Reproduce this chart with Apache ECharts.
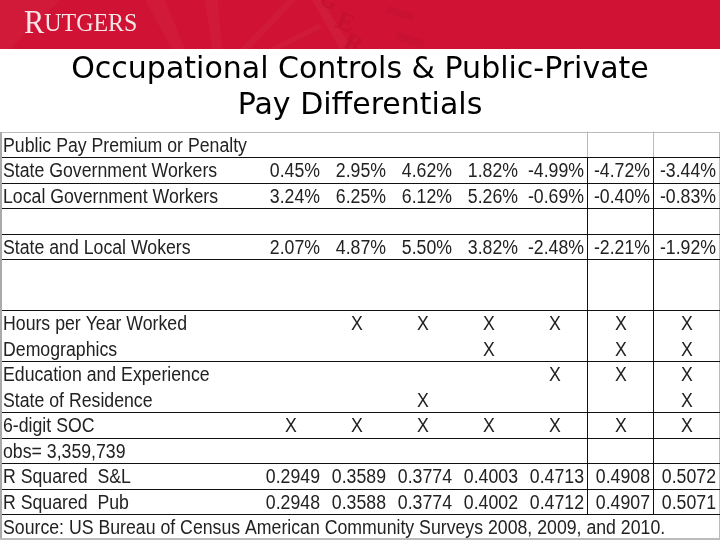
<!DOCTYPE html>
<html>
<head>
<meta charset="utf-8">
<style>html,body{margin:0;padding:0;background:#fff}#main{width:720px;height:540px}</style>
<script src="https://cdn.jsdelivr.net/npm/echarts@6/dist/echarts.min.js"></script>
</head>
<body>
<div id="main"></div>
<script>
var rowLabels = ['Public Pay Premium or Penalty', 'State Government Workers', 'Local Government Workers', ' ',
    'State and Local Wokers', ' ', ' ', 'Hours per Year Worked', 'Demographics', 'Education and Experience',
    'State of Residence', '6-digit SOC', 'obs= 3,359,739', 'R Squared  S&L', 'R Squared  Pub',
    'Source: US Bureau of Census American Community Surveys 2008, 2009, and 2010.'];
var columns = ['m1', 'm2', 'm3', 'm4', 'm5', 'm6', 'm7'];

var stateGov = ['0.45%', '2.95%', '4.62%', '1.82%', '-4.99%', '-4.72%', '-3.44%'];
var localGov = ['3.24%', '6.25%', '6.12%', '5.26%', '-0.69%', '-0.40%', '-0.83%'];
var stateLocal = ['2.07%', '4.87%', '5.50%', '3.82%', '-2.48%', '-2.21%', '-1.92%'];
var rSquaredSL = ['0.2949', '0.3589', '0.3774', '0.4003', '0.4713', '0.4908', '0.5072'];
var rSquaredPub = ['0.2948', '0.3588', '0.3774', '0.4002', '0.4712', '0.4907', '0.5071'];

// which model columns carry an X
var hoursX = [1, 2, 3, 4, 5, 6];
var demoX = [3, 5, 6];
var eduX = [4, 5, 6];
var stateX = [2, 6];
var socX = [0, 1, 2, 3, 4, 5, 6];

// rows under which a rule is drawn, and the last two columns' left edges
var ruledRows = [0, 1, 2, 3, 4, 6, 8, 10, 11, 12, 13, 14];
var ruledCols = [5, 6];

var numberCells = [];
[[1, stateGov], [2, localGov], [4, stateLocal], [13, rSquaredSL], [14, rSquaredPub]].forEach(function (r) {
    r[1].forEach(function (v, i) { numberCells.push([i, r[0], v]); });
});
var xCells = [];
[[7, hoursX], [8, demoX], [9, eduX], [10, stateX], [11, socX]].forEach(function (r) {
    r[1].forEach(function (c) { xCells.push([c, r[0], 'X']); });
});
var labelCells = rowLabels.map(function (t, i) { return [0, i, t]; });

var TEXT = '#222';
var CELL_FONT = '20px "Liberation Sans", Arial, sans-serif';
var SQUEEZE = 0.885;   // the sheet was pasted in narrower than it was typed
var TEXT_DROP = 2;

function renderRule(params, api) {
    var size = api.size([1, 1]);
    var p = api.coord([0, api.value(0)]);
    var y = Math.round(p[1] + size[1] / 2) + 0.5;
    return {
        type: 'line',
        shape: { x1: 2, y1: y, x2: 720, y2: y },
        style: { stroke: '#111', lineWidth: 1 }
    };
}
function renderColRule(params, api) {
    var size = api.size([1, 1]);
    var p = api.coord([api.value(0), 0]);
    var x = Math.round(p[0] - size[0] / 2) - 0.5;
    var top = api.coord([0, 0])[1] - size[1] / 2;
    var end = api.coord([0, rowLabels.length - 1])[1] + size[1] / 2;
    return {
        type: 'group',
        children: [
            { type: 'line', shape: { x1: x, y1: top, x2: x, y2: top + size[1] }, style: { stroke: '#bbb', lineWidth: 1 } },
            { type: 'line', shape: { x1: x, y1: top + size[1], x2: x, y2: end - size[1] }, style: { stroke: '#111', lineWidth: 1 } }
        ]
    };
}
function cellText(x, y, text, align) {
    return {
        type: 'text',
        x: x,
        y: y + TEXT_DROP,
        scaleX: SQUEEZE,
        style: { text: text, align: align, verticalAlign: 'middle', fill: TEXT, font: CELL_FONT }
    };
}
function renderLabel(params, api) {
    var p = api.coord([0, api.value(1)]);
    return cellText(3, p[1], api.value(2), 'left');
}
function renderNumber(params, api) {
    var size = api.size([1, 1]);
    var p = api.coord([api.value(0), api.value(1)]);
    return cellText(p[0] + size[0] / 2 - 4, p[1], api.value(2), 'right');
}
function renderX(params, api) {
    var p = api.coord([api.value(0), api.value(1)]);
    return cellText(p[0], p[1], api.value(2), 'center');
}

var chart = echarts.init(document.getElementById('main'));
chart.setOption({
    animation: false,
    backgroundColor: '#fff',
    title: {
        text: 'Occupational Controls & Public-Private\nPay Differentials',
        left: 355,
        top: 47,
        textAlign: 'center',
        textStyle: { fontFamily: '"DejaVu Sans"', fontSize: 30, fontWeight: 'normal', color: '#000', lineHeight: 36 }
    },
    graphic: [
        { type: 'rect', z: -3, shape: { x: 0, y: 0, width: 720, height: 49 }, style: { fill: '#d01234' } },
        // faint rays and seal lettering in the banner
        { type: 'polygon', z: -3, shape: { points: [[0, 0], [60, 0], [10, 49], [0, 49]] }, style: { fill: 'rgba(255,255,255,0.03)' } },
        { type: 'polygon', z: -3, shape: { points: [[145, 0], [165, 0], [185, 49], [172, 49]] }, style: { fill: 'rgba(255,255,255,0.03)' } },
        { type: 'polygon', z: -3, shape: { points: [[205, 0], [218, 0], [222, 49], [212, 49]] }, style: { fill: 'rgba(255,255,255,0.03)' } },
        { type: 'polygon', z: -3, shape: { points: [[288, 0], [296, 0], [250, 49], [240, 49]] }, style: { fill: 'rgba(255,255,255,0.03)' } },
        { type: 'polygon', z: -3, shape: { points: [[318, 24], [322, 28], [280, 49], [268, 49]] }, style: { fill: 'rgba(255,255,255,0.03)' } },
        { type: 'polygon', z: -3, shape: { points: [[312, 0], [322, 0], [352, 49], [340, 49]] }, style: { fill: 'rgba(255,255,255,0.04)' } },
        { type: 'text', z: -3, x: 342, y: 8, rotation: -0.4, style: { text: 'E', font: 'bold 26px "Liberation Serif"', fill: '#c41131' } },
        { type: 'text', z: -3, x: 350, y: 30, rotation: -0.4, style: { text: 'R', font: 'bold 24px "Liberation Serif"', fill: '#c41131' } },
        { type: 'text', z: -3, x: 326, y: -12, rotation: -0.5, style: { text: 'G', font: 'bold 22px "Liberation Serif"', fill: '#c41131' } },
        { type: 'rect', z: -3, rotation: -0.3, x: 388, y: 6, shape: { x: 0, y: 0, width: 28, height: 7 }, style: { fill: '#c91233' } },
        { type: 'rect', z: -3, rotation: -0.3, x: 398, y: 32, shape: { x: 0, y: 0, width: 28, height: 8 }, style: { fill: '#c91233' } },
        { type: 'rect', z: -2, shape: { x: 0, y: 49, width: 720, height: 491 }, style: { fill: '#fff' } },
        {
            type: 'text', x: 24, y: 8, scaleX: 0.92,
            style: {
                text: '{a|R}{b|UTGERS}',
                rich: {
                    a: { font: '33px "Liberation Serif"', fill: '#f6e6e6' },
                    b: { font: '26px "Liberation Serif"', fill: '#f6e6e6' }
                }
            }
        },
        // grey frame of the pasted sheet
        { type: 'rect', shape: { x: 0, y: 132, width: 720, height: 1 }, style: { fill: '#bbb' } },
        { type: 'rect', shape: { x: 0, y: 132, width: 2, height: 408 }, style: { fill: '#aaa' } },
        { type: 'rect', shape: { x: 719, y: 132, width: 1, height: 408 }, style: { fill: '#bbb' } },
        { type: 'rect', shape: { x: 0, y: 538, width: 720, height: 2 }, style: { fill: '#bbb' } }
    ],
    grid: { left: 258, top: 131.6, width: 462, height: 408 },
    xAxis: { type: 'category', data: columns, show: false },
    yAxis: { type: 'category', data: rowLabels, inverse: true, show: false },
    series: [
        { type: 'custom', renderItem: renderRule, data: ruledRows.map(function (r) { return [r]; }), encode: { x: -1, y: 0 }, silent: true },
        { type: 'custom', renderItem: renderColRule, data: ruledCols.map(function (c) { return [c]; }), encode: { x: 0, y: -1 }, silent: true },
        { type: 'custom', renderItem: renderLabel, data: labelCells, encode: { x: 0, y: 1 }, silent: true, z: 3 },
        { type: 'custom', renderItem: renderNumber, data: numberCells, encode: { x: 0, y: 1 }, silent: true, z: 3 },
        { type: 'custom', renderItem: renderX, data: xCells, encode: { x: 0, y: 1 }, silent: true, z: 3 }
    ]
});
</script>
</body>
</html>
